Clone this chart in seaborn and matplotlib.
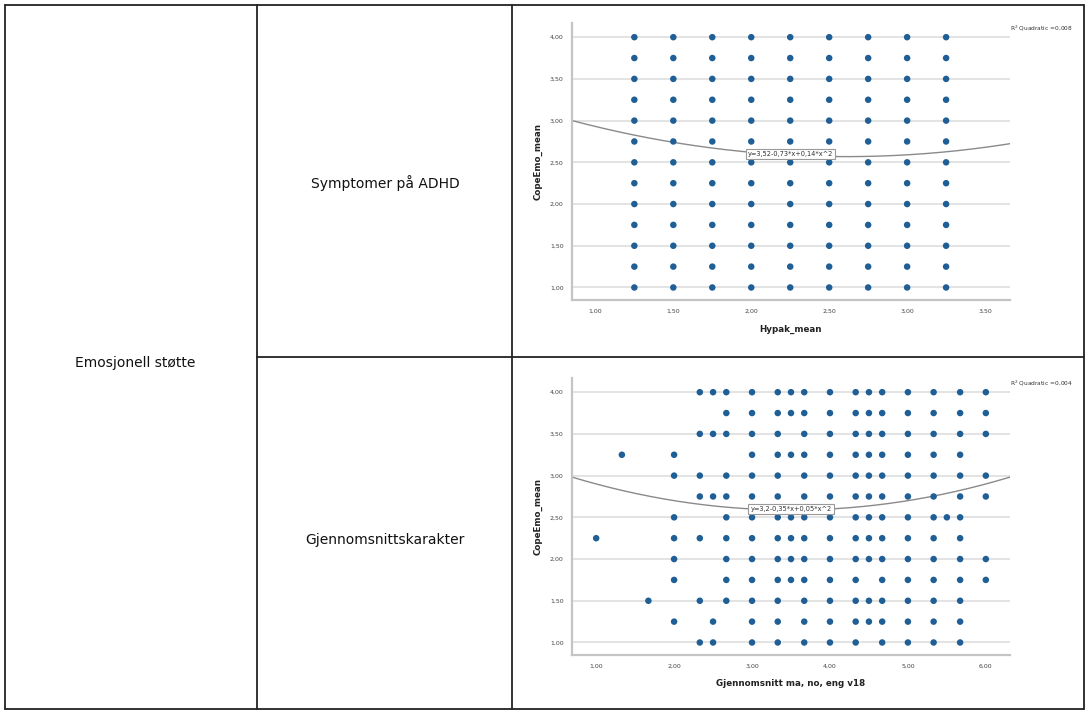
import numpy as np
import pandas as pd
import matplotlib
matplotlib.use("Agg")
import matplotlib.pyplot as plt
import seaborn as sns
from matplotlib.lines import Line2D

# ---------------- data ----------------
row_labels = ["Symptomer på ADHD", "Gjennomsnittskarakter"]
group_label = "Emosjonell støtte"

y_levels = [4.00, 3.75, 3.50, 3.25, 3.00, 2.75, 2.50, 2.25, 2.00, 1.75, 1.50, 1.25, 1.00]

# Plot 1: Hypak_mean vs CopeEmo_mean (every combination observed)
hypak_x = [1.25, 1.50, 1.75, 2.00, 2.25, 2.50, 2.75, 3.00, 3.25]
hypak_y = [y_levels] * len(hypak_x)

# Plot 2: Gjennomsnitt ma, no, eng v18 vs CopeEmo_mean
grade_x = [1.00, 1.33, 1.67, 2.00, 2.33, 2.50, 2.67, 3.00, 3.33, 3.50,
           3.67, 4.00, 4.33, 4.50, 4.67, 5.00, 5.33, 5.50, 5.67, 6.00]
grade_y = [
    [2.25],
    [3.25],
    [1.50],
    [3.25, 3.00, 2.50, 2.25, 2.00, 1.75, 1.25],
    [4.00, 3.50, 3.00, 2.75, 2.25, 1.50, 1.00],
    [4.00, 3.50, 2.75, 1.25, 1.00],
    [4.00, 3.75, 3.50, 3.00, 2.75, 2.50, 2.25, 2.00, 1.75, 1.50],
    y_levels,
    y_levels,
    [4.00, 3.75, 3.25, 2.50, 2.25, 2.00, 1.75],
    y_levels,
    y_levels,
    y_levels,
    [4.00, 3.75, 3.50, 3.25, 3.00, 2.75, 2.50, 2.25, 2.00, 1.50, 1.25],
    y_levels,
    y_levels,
    y_levels,
    [2.50],
    y_levels,
    [4.00, 3.75, 3.50, 3.00, 2.75, 2.00, 1.75],
]

# quadratic fits shown in the chart: (b0, b1, b2), R²
fit1 = (3.52, -0.73, 0.14)
fit2 = (3.2, -0.35, 0.05)
r2_1 = "0,008"
r2_2 = "0,004"
eq1 = "y=3,52-0,73*x+0,14*x^2"
eq2 = "y=3,2-0,35*x+0,05*x^2"

x_ticks1 = [1.00, 1.50, 2.00, 2.50, 3.00, 3.50]
x_ticks2 = [1.00, 2.00, 3.00, 4.00, 5.00, 6.00]
y_ticks = [1.00, 1.50, 2.00, 2.50, 3.00, 3.50, 4.00]


def to_df(xs, ys):
    rows = []
    for x, col in zip(xs, ys):
        for y in col:
            rows.append((x, y))
    return pd.DataFrame(rows, columns=["x", "y"])


df1 = to_df(hypak_x, hypak_y)
df2 = to_df(grade_x, grade_y)

# ---------------- figure ----------------
sns.set_theme(style="white")
plt.rcParams['font.family'] = ['DejaVu Sans']

W, H = 1089, 713
fig = plt.figure(figsize=(W / 100, H / 100), dpi=100)
fig.patch.set_facecolor("white")


def fx(px):
    return px / W


def fy(py):
    return 1 - py / H


# table lines
line_kw = dict(color="#222222", linewidth=1.3, transform=fig.transFigure)
segments = [
    ((5, 5), (1084, 5)),
    ((5, 709), (1084, 709)),
    ((5, 5), (5, 709)),
    ((1084, 5), (1084, 709)),
    ((257, 5), (257, 709)),
    ((512, 5), (512, 709)),
    ((257, 357), (1084, 357)),
]
for (x0, y0), (x1, y1) in segments:
    fig.add_artist(Line2D([fx(x0), fx(x1)], [fy(y0), fy(y1)], **line_kw))

fig.text(fx(135), fy(363), group_label, ha="center", va="center", fontsize=10, color="#111111")
fig.text(fx(385), fy(183), row_labels[0], ha="center", va="center", fontsize=10, color="#111111")
fig.text(fx(385), fy(540), row_labels[1], ha="center", va="center", fontsize=10, color="#111111")

dot_color = "#1f5f96"


def fmt(v):
    return f"{v:.2f}".replace(".", ",")


def make_panel(top_px, df, xlim, xticks, fit, eq, eq_pos, r2, xlabel):
    left, right, bottom = 572, 1010, top_px + 277
    ax = fig.add_axes([fx(left), fy(bottom), (right - left) / W, 277 / H])
    for yv in y_ticks:
        ax.axhline(yv, color="#e3e3e3", linewidth=1.4, zorder=0)
    sns.scatterplot(data=df, x="x", y="y", ax=ax, color=dot_color, s=22,
                    edgecolor="none", linewidth=0, zorder=3, legend=False)
    xs = np.linspace(xlim[0], xlim[1], 200)
    ax.plot(xs, fit[0] + fit[1] * xs + fit[2] * xs ** 2, color="#8a8a8a",
            linewidth=1.0, zorder=2)
    ax.text(eq_pos[0], eq_pos[1], eq, fontsize=4.8, color="#333333",
            ha="center", va="center", zorder=5,
            bbox=dict(boxstyle="square,pad=0.3", facecolor="white",
                      edgecolor="#9a9a9a", linewidth=0.8))
    ax.set_xlim(*xlim)
    ax.set_ylim(0.85, 4.17)
    ax.set_xticks(xticks)
    ax.set_xticklabels([fmt(v) for v in xticks])
    ax.set_yticks(y_ticks)
    ax.set_yticklabels([fmt(v) for v in y_ticks])
    ax.tick_params(axis="both", length=0, labelsize=4.5, labelcolor="#444444")
    ax.tick_params(axis="x", pad=6)
    ax.tick_params(axis="y", pad=6)
    for side in ["top", "right"]:
        ax.spines[side].set_visible(False)
    for side in ["left", "bottom"]:
        ax.spines[side].set_color("#c4c4c4")
        ax.spines[side].set_linewidth(1.6)
    ax.set_xlabel(xlabel, fontsize=6.3, fontweight="bold", color="#222222", labelpad=8)
    ax.set_ylabel("CopeEmo_mean", fontsize=6.3, fontweight="bold", color="#222222", labelpad=5)
    ax.grid(False)
    fig.text(fx(1010), fy(top_px + 5), f"R$^2$ Quadratic ={r2}", fontsize=4.2,
             color="#333333", ha="left", va="center")
    return ax


make_panel(23, df1, (0.85, 3.66), x_ticks1, fit1, eq1, (2.25, 2.60), r2_1, "Hypak_mean")
make_panel(378, df2, (0.69, 6.31), x_ticks2, fit2, eq2, (3.50, 2.60), r2_2,
           "Gjennomsnitt ma, no, eng v18")

fig.savefig("out.png", dpi=100)
